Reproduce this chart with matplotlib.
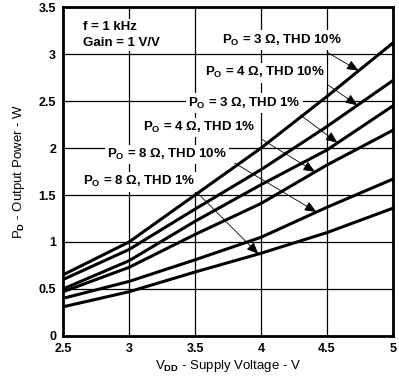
import matplotlib
matplotlib.use('Agg')
import matplotlib.pyplot as plt
import numpy as np

plt.rcParams['font.family'] = ['Liberation Sans', 'DejaVu Sans']
plt.rcParams['font.weight'] = 'bold'
plt.rcParams['mathtext.fontset'] = 'custom'
plt.rcParams['mathtext.bf'] = 'Liberation Sans:bold'
plt.rcParams['mathtext.rm'] = 'Liberation Sans:bold'
plt.rcParams['mathtext.default'] = 'bf'

# supply voltage (V) and output power (W)
vdd = [2.5, 3.0, 3.5, 4.0, 4.5, 5.0]
p_3ohm_10 = [0.65, 1.00, 1.50, 2.00, 2.55, 3.12]
p_4ohm_10 = [0.60, 0.92, 1.35, 1.77, 2.23, 2.72]
p_3ohm_1 = [0.50, 0.80, 1.22, 1.61, 1.98, 2.45]
p_4ohm_1 = [0.47, 0.73, 1.08, 1.41, 1.82, 2.19]
p_8ohm_10 = [0.40, 0.58, 0.81, 1.05, 1.37, 1.67]
p_8ohm_1 = [0.31, 0.47, 0.68, 0.88, 1.10, 1.36]

labels = [r'P$_{O}$ = 3 Ω, THD 10%', r'P$_{O}$ = 4 Ω, THD 10%',
          r'P$_{O}$ = 3 Ω, THD 1%', r'P$_{O}$ = 4 Ω, THD 1%',
          r'P$_{O}$ = 8 Ω, THD 10%', r'P$_{O}$ = 8 Ω, THD 1%']
series = [p_3ohm_10, p_4ohm_10, p_3ohm_1, p_4ohm_1, p_8ohm_10, p_8ohm_1]

# where the label text sits, where its arrow starts and which V it points at
label_pos = [(3.705, 3.15), (3.576, 2.80), (3.447, 2.48),
             (3.106, 2.22), (2.833, 1.93), (2.652, 1.64)]
arrow_start = [(4.50, 3.02), (4.51, 2.67), (4.30, 2.35),
               (4.01, 2.09), (3.80, 1.84), (3.52, 1.52)]
arrow_v = [4.74, 4.73, 4.58, 4.41, 4.42, 3.98]

fig = plt.figure(figsize=(3.99, 3.77), dpi=100)
ax = fig.add_axes([0.158, 0.109, 0.827, 0.872])

for s in series:
    ax.plot(vdd, s, color='black', lw=2.2, zorder=4)

ax.set_xlim(2.5, 5)
ax.set_ylim(0, 3.5)
ax.set_xticks([2.5, 3, 3.5, 4, 4.5, 5])
ax.set_xticklabels(['2.5', '3', '3.5', '4', '4.5', '5'])
ax.set_yticks([0, 0.5, 1, 1.5, 2, 2.5, 3, 3.5])
ax.set_yticklabels(['0', '0.5', '1', '1.5', '2', '2.5', '3', '3.5'])
ax.grid(True, color='black', lw=0.9)
ax.set_axisbelow(True)
ax.tick_params(length=0, labelsize=9, pad=5)
for sp in ax.spines.values():
    sp.set_linewidth(2)
    sp.set_zorder(5)

ax.set_xlabel(r'V$_{DD}$ - Supply Voltage - V', fontsize=9.5, labelpad=2)
ax.set_ylabel(r'P$_{D}$ - Output Power - W', fontsize=9.5, labelpad=8)

box = dict(facecolor='white', edgecolor='none', pad=1.5)
ax.text(2.652, 3.287, 'f = 1 kHz', fontsize=9.5, va='center', bbox=box, zorder=3)
ax.text(2.652, 3.117, 'Gain = 1 V/V', fontsize=9.5, va='center', bbox=box, zorder=3)

for lab, pos, st, v, s in zip(labels, label_pos, arrow_start, arrow_v, series):
    ax.text(pos[0], pos[1], lab, fontsize=9.5, va='center', bbox=box, zorder=3)
    tip = (v, np.interp(v, vdd, s))
    ax.annotate('', xy=tip, xytext=st,
                arrowprops=dict(arrowstyle='-|>,head_length=0.6,head_width=0.25',
                                color='black', lw=0.6, mutation_scale=12,
                                shrinkA=0, shrinkB=0), zorder=6)

fig.savefig('out.png', dpi=100)
